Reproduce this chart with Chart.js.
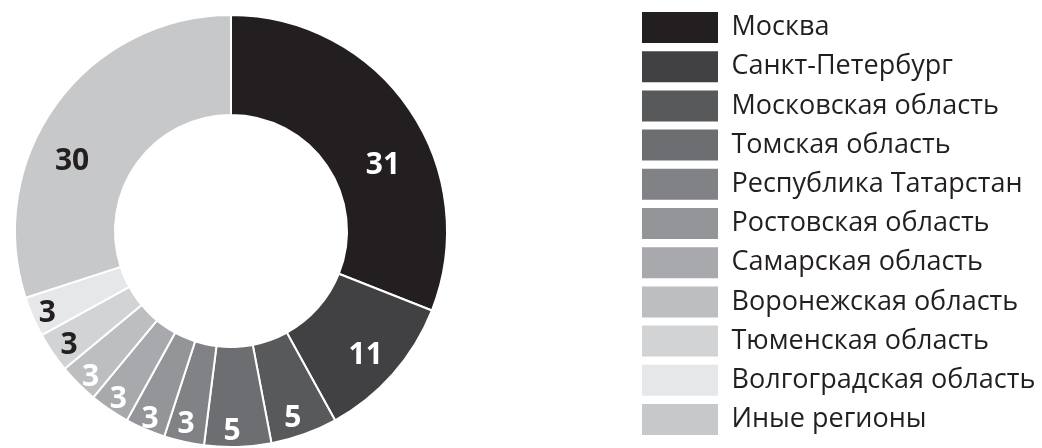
<!DOCTYPE html>
<html>
<head>
<meta charset="utf-8">
<script src="https://cdn.jsdelivr.net/npm/chart.js@4.4.1/dist/chart.umd.min.js"></script>
<style>
  html, body { margin: 0; padding: 0; background: #ffffff; }
  #wrap { width: 1042px; height: 448px; }
</style>
</head>
<body>
<div id="wrap"><canvas id="c" width="1042" height="448"></canvas></div>
<script>
// ---- data ----
const categories = [
  'Москва',
  'Санкт-Петербург',
  'Московская область',
  'Томская область',
  'Республика Татарстан',
  'Ростовская область',
  'Самарская область',
  'Воронежская область',
  'Тюменская область',
  'Волгоградская область',
  'Иные регионы'
];
const values = [31, 11, 5, 5, 3, 3, 3, 3, 3, 3, 30];

// ---- styles ----
const sliceColors = [
  '#231f20', '#414042', '#58595b', '#6d6e71', '#808285', '#939598',
  '#a7a9ac', '#bcbec0', '#d1d3d4', '#e6e7e8', '#c7c8ca'
];
const labelColors = [
  '#ffffff', '#ffffff', '#ffffff', '#ffffff', '#ffffff', '#ffffff',
  '#ffffff', '#ffffff', '#231f20', '#231f20', '#231f20'
];
// label placement tweaks (angle shift in degrees, radial fraction across the ring)
const labelAngleShift = [10.4, 1.2, 1.4, 1.5, 0.5, 0, -0.3, -1, -0.9, -0.6, -12];
const labelRadiusFrac = [0.50, 0.67, 0.80, 0.83, 0.82, 0.88, 0.86, 0.86, 0.82, 0.85, 0.58];

// fixed placement of the ring area and of the legend block
const ringArea = { left: 15, top: 15, right: 447, bottom: 447 };
const legendBox = { left: 633.8, top: 3.8 };

const placement = {
  id: 'placement',
  afterLayout(chart) {
    Object.assign(chart.chartArea, ringArea, {
      width: ringArea.right - ringArea.left,
      height: ringArea.bottom - ringArea.top
    });
    const lg = chart.legend;
    if (lg) {
      const w = lg.width;
      lg.left = legendBox.left;
      lg.right = legendBox.left + w;
      lg.top = legendBox.top;
      lg.bottom = chart.height + 20;
      lg.height = lg.bottom - lg.top;
    }
  }
};

const valueLabels = {
  id: 'valueLabels',
  afterDatasetsDraw(chart) {
    const ctx = chart.ctx;
    const meta = chart.getDatasetMeta(0);
    ctx.save();
    ctx.font = 'bold 30px "Open Sans"';
    ctx.textAlign = 'center';
    ctx.textBaseline = 'middle';
    meta.data.forEach((arc, i) => {
      const p = arc.getProps(['x', 'y', 'startAngle', 'endAngle', 'innerRadius', 'outerRadius'], true);
      const a = (p.startAngle + p.endAngle) / 2 + labelAngleShift[i] * Math.PI / 180;
      const r = p.innerRadius + labelRadiusFrac[i] * (p.outerRadius - p.innerRadius);
      ctx.fillStyle = labelColors[i];
      ctx.fillText(String(values[i]), p.x + r * Math.cos(a), p.y + r * Math.sin(a) + 1);
    });
    ctx.restore();
  }
};

new Chart(document.getElementById('c'), {
  type: 'doughnut',
  data: {
    labels: categories,
    datasets: [{
      data: values,
      backgroundColor: sliceColors,
      borderColor: '#ffffff',
      borderWidth: 2,
      radius: 216,
      cutout: '53.7%'
    }]
  },
  options: {
    responsive: false,
    animation: false,
    layout: { padding: { left: 0, right: 0, top: 3.8, bottom: 0 } },
    plugins: {
      tooltip: { enabled: false },
      legend: {
        position: 'right',
        align: 'start',
        labels: {
          boxWidth: 76,
          boxHeight: 31,
          padding: 8.2,
          color: '#231f20',
          font: { family: 'Open Sans', size: 27 },
          generateLabels(chart) {
            const items = Chart.overrides.doughnut.plugins.legend.labels.generateLabels(chart);
            items.forEach(it => { it.lineWidth = 0; });
            return items;
          }
        }
      }
    }
  },
  plugins: [placement, valueLabels]
});
</script>
</body>
</html>
